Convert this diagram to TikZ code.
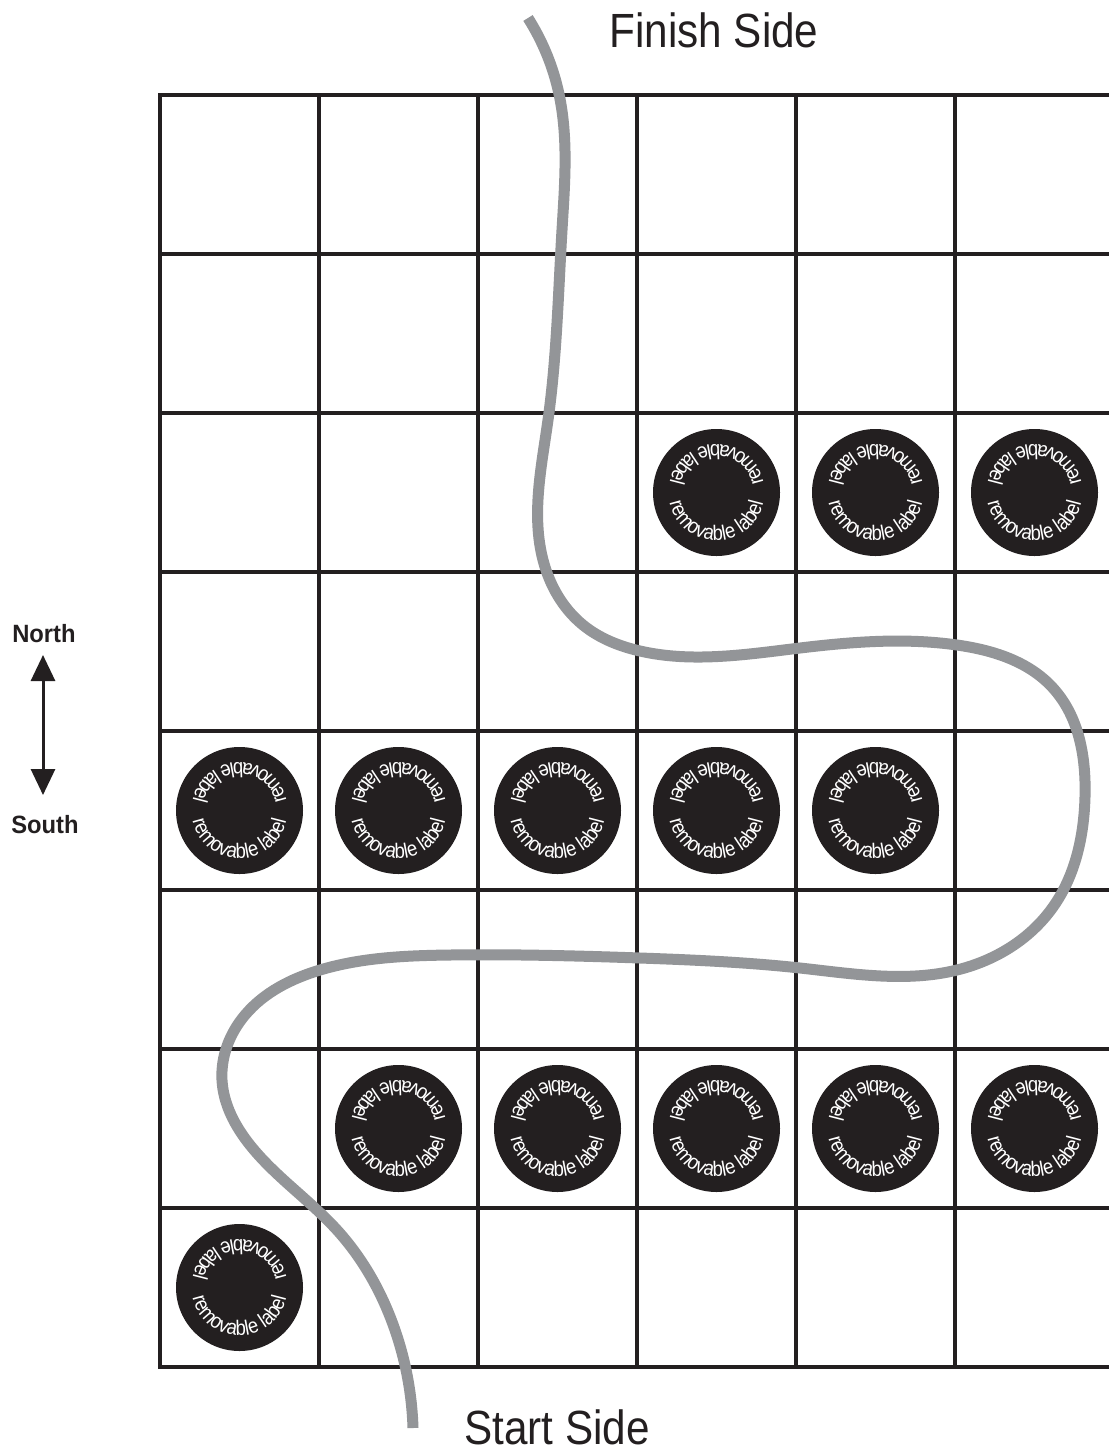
\documentclass[tikz,border=0pt]{standalone}
\usepackage{fontspec}
\setmainfont{Liberation Sans}
\newfontfamily\labfont[FakeStretch=0.88]{Liberation Sans}
\newfontfamily\sidefont[FakeStretch=0.88]{Liberation Sans}
\newfontfamily\nsfont[FakeStretch=0.95]{Liberation Sans}
\usetikzlibrary{arrows.meta,decorations.text,hobby}
\definecolor{ink}{RGB}{35,31,32}
\definecolor{snake}{RGB}{147,149,152}
\newcommand\labstyle{\labfont\fontsize{21}{23}\selectfont\color{white}}
\tikzset{
  gridline/.style={draw=ink, line width=4.5pt, line cap=rect},
  disc/.style={circle, fill=ink, draw=none, minimum size=127pt, inner sep=0pt},
  ringtext/.style={decorate, decoration={text along path, text={|\labstyle|removable label}, text align=center}},
  sidelabel/.style={font=\sidefont\fontsize{48}{50}\selectfont, text=ink, anchor=base, inner sep=0pt},
  nslabel/.style={font=\nsfont\bfseries\fontsize{25}{27}\selectfont, text=ink, anchor=base, inner sep=0pt},
  route/.style={draw=snake, line width=11pt}
}
\begin{document}
\begin{tikzpicture}[x=1pt,y=1pt]
\useasboundingbox (0,0) rectangle (1109,-1452);
\clip (0,0) rectangle (1109,-1452);
\fill[white] (0,0) rectangle (1109,-1452);
% grid
\foreach \i in {0,...,8} {
  \draw[gridline] (160,{-95-159*\i}) -- (1125,{-95-159*\i});
}
\foreach \j in {0,...,5} {
  \draw[gridline] ({160+159*\j},-95) -- ({160+159*\j},-1367);
}
% removable labels
\foreach \r/\c in {2/3,2/4,2/5,4/0,4/1,4/2,4/3,4/4,6/1,6/2,6/3,6/4,6/5,7/0} {
  \node[disc] (d\r\c) at ({160+159*\c+79.5},{-(95+159*\r+79.5)}) {};
  \path[ringtext] (d\r\c.center) ++(180:48) arc[start angle=180, end angle=360, radius=48];
  \path[ringtext] (d\r\c.center) ++(0:48) arc[start angle=0, end angle=180, radius=48];
}
% route
\coordinate (finishEnd) at (528,-18);
\coordinate (startEnd) at (413,-1428);
\draw[route, use Hobby shortcut] (finishEnd) .. (559,-94) .. (562,-230) .. (548,-420) .. (543,-560)
 .. (583,-625) .. (640,-651) .. (800,-648) .. (957,-645) .. (1053,-688) .. (1085,-797)
 .. (1053,-907) .. (957,-970) .. (800,-968) .. (640,-958) .. (450,-955) .. (320,-970)
 .. (245,-1015) .. (222,-1080) .. (250,-1145) .. (337,-1230) .. (395,-1330) .. (startEnd);
% side labels
\node[sidelabel] (finish) at (714,-47) {Finish Side};
\node[sidelabel] (start) at (557,-1444) {Start Side};
% compass
\node[nslabel] (north) at (44,-642) {North};
\node[nslabel] (south) at (45,-833) {South};
\coordinate (nsTop) at (43,-655);
\coordinate (nsBot) at (43,-795);
\draw[ink, line width=3pt, {Triangle[width=24pt,length=26pt]}-{Triangle[width=24pt,length=26pt]}] (nsTop) -- (nsBot);
\end{tikzpicture}
\end{document}
